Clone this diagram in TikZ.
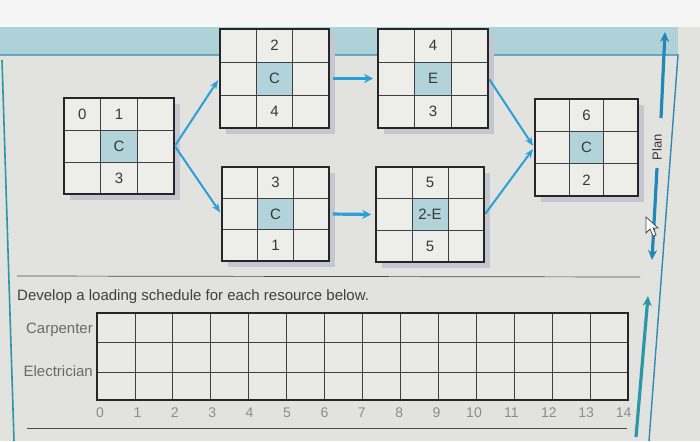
\documentclass[tikz,border=0pt]{standalone}
\usepackage{fontspec}
\setmainfont{Liberation Sans}
\usetikzlibrary{arrows.meta,fit}
\definecolor{bg}{HTML}{E2E3DF}
\definecolor{cellbg}{HTML}{EDEDE9}
\definecolor{cellc}{HTML}{B2D3D9}
\definecolor{band}{HTML}{AFD2D9}
\definecolor{lineblue}{HTML}{2F8BB3}
\definecolor{arrblue}{HTML}{2A9FD8}
\definecolor{tealarr}{HTML}{2A98A8}
\definecolor{txt}{HTML}{383838}
\definecolor{shadowc}{HTML}{C6C6D0}
\definecolor{lbl}{HTML}{6A6A6A}
\definecolor{tick}{HTML}{8C8C8C}
\tikzset{
  boxfit/.style={inner sep=0pt, draw=black!85, line width=1.6pt},
  cellline/.style={draw=black!75, line width=0.7pt},
  celltext/.style={text=txt, font=\fontsize{15}{15}\selectfont, inner sep=0pt},
  arr/.style={draw=arrblue, line width=2pt, -{Stealth[length=9pt,width=7pt]}, shorten >=2pt, shorten <=1pt},
  harr/.style={draw=arrblue, line width=3.2pt, -{Stealth[length=9pt,width=9pt]}, shorten >=4pt, shorten <=3pt},
  sidearr/.style={line width=3.2pt, -{Stealth[length=10pt,width=9pt]}},
  lbltext/.style={text=lbl, font=\fontsize{15}{15}\selectfont, inner sep=0pt},
  ticktext/.style={text=tick, font=\fontsize{14}{14}\selectfont, inner sep=0pt},
}
% name, x1, y1, x2, y2, top-left, top, middle, bottom
\newcommand{\actbox}[9]{%
  \pgfmathsetmacro\xa{#2+(#4-#2)/3}%
  \pgfmathsetmacro\xb{#2+2*(#4-#2)/3}%
  \pgfmathsetmacro\ya{#3+(#5-#3)/3}%
  \pgfmathsetmacro\yb{#3+2*(#5-#3)/3}%
  \pgfmathsetmacro\xm{(#2+#4)/2}%
  \pgfmathsetmacro\xl{#2+(#4-#2)/6}%
  \pgfmathsetmacro\yt{#3+(#5-#3)/6}%
  \pgfmathsetmacro\ym{(#3+#5)/2}%
  \pgfmathsetmacro\yl{#3+5*(#5-#3)/6}%
  \fill[shadowc] (#2+6,#3+6) rectangle (#4+6,#5+6);
  \fill[cellbg] (#2,#3) rectangle (#4,#5);
  \fill[cellc] (\xa,\ya) rectangle (\xb,\yb);
  \draw[cellline] (\xa,#3) -- (\xa,#5) (\xb,#3) -- (\xb,#5)
                  (#2,\ya) -- (#4,\ya) (#2,\yb) -- (#4,\yb);
  \node[boxfit, fit={(#2,#3)(#4,#5)}] (#1) {};
  \node[celltext] (#1tl) at (\xl,\yt) {#6};
  \node[celltext] (#1t) at (\xm,\yt) {#7};
  \node[celltext] (#1m) at (\xm,\ym) {#8};
  \node[celltext] (#1b) at (\xm,\yl) {#9};
}
\begin{document}
\begin{tikzpicture}[x=1pt,y=-1pt]
\useasboundingbox (0,0) rectangle (700,441);
\fill[bg] (0,0) rectangle (700,441);
\fill[black!4] (0,0) rectangle (700,27);
\fill[band] (0,27) rectangle (678,55);
% frame lines
\draw[lineblue, line width=1.4pt] (0,55) -- (678,55) -- (649,441);
\draw[tealarr, line width=1.6pt] (2,60) -- (14,441);
% separator lines
\draw[black!70, line width=0.7pt] (17,276) -- (640,277);
\draw[black!70, line width=0.7pt] (27,428) -- (627,428);
% activity boxes
\actbox{b1}{64}{98}{174}{194}{0}{1}{C}{3}
\actbox{b2}{220}{29}{329}{128}{}{2}{C}{4}
\actbox{b3}{378}{29}{488}{128}{}{4}{E}{3}
\actbox{b4}{222}{167}{329}{261}{}{3}{C}{1}
\actbox{b5}{376}{167}{484}{262}{}{5}{2-E}{5}
\actbox{b6}{535}{99}{638}{196}{}{6}{C}{2}
% connectors
\draw[arr] (b1.east) -- (b2.west);
\draw[arr] (b1.east) -- (b4.west);
\draw[harr] (b2.east) -- (b3.west);
\draw[harr] (b4.east) -- (b5.west);
\draw[arr] (b3.east) -- (b6.west);
\draw[arr] (b5.east) -- (b6.west);
% right side
\node[text=txt, font=\fontsize{13}{13}\selectfont, rotate=90, inner sep=0pt] (plan) at (657,147) {Plan};
\coordinate (upA) at (661,118);
\coordinate (upB) at (665,32);
\coordinate (dnA) at (657,168);
\coordinate (dnB) at (652,260);
\coordinate (bA) at (636,437);
\coordinate (bB) at (648,296);
\draw[sidearr, draw=arrblue!85!black] (upA) -- (upB);
\draw[sidearr, draw=arrblue!85!black] (dnA) -- (dnB);
\draw[sidearr, draw=tealarr] (bA) -- (bB);
% cursor
\filldraw[fill=white, draw=black!70, line width=0.8pt]
  (646,217) -- (646,233) -- (650,229) -- (653,236) -- (656,235) -- (653,228) -- (658,228) -- cycle;
% instruction
\node[anchor=west, text=black!75, font=\fontsize{15}{15}\selectfont, inner sep=0pt] (instr) at (17,297) {Develop a loading schedule for each resource below.};
% schedule grid
\fill[cellbg!60!bg] (97,313) rectangle (628,400);
\foreach \i in {1,...,13} \draw[black!75, line width=0.8pt] (97+\i*37.93,313) -- (97+\i*37.93,400);
\draw[black!75, line width=0.8pt] (97,342) -- (628,342) (97,372) -- (628,372);
\node[boxfit, fit={(97,313)(628,400)}] (sched) {};
\node[lbltext, anchor=east] (carp) at (93,330) {Carpenter};
\node[lbltext, anchor=east] (elec) at (93,371) {Electrician};
\foreach \i in {0,...,14} \node[ticktext] (t\i) at (100+\i*37.4,413) {\i};
\end{tikzpicture}
\end{document}
